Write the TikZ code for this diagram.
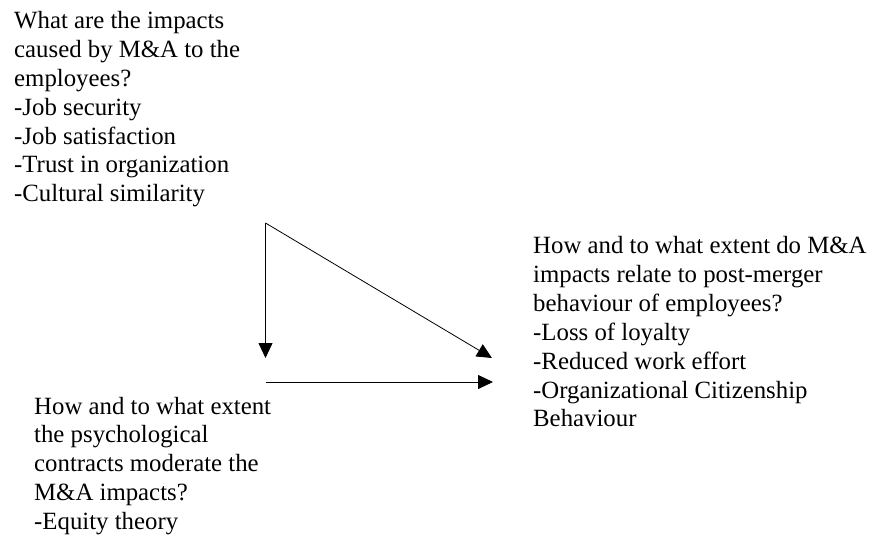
\documentclass[tikz,border=0pt]{standalone}
\usepackage{fontspec}
\setmainfont{Liberation Serif}
\usetikzlibrary{arrows.meta}
\begin{document}
\begin{tikzpicture}[x=1bp,y=-1bp,
  qtext/.style={anchor=base west,inner sep=0pt,align=left,
    font=\fontsize{24.8bp}{28.8bp}\selectfont},
  link/.style={line width=0.8bp,-{Triangle[length=15bp,width=14bp]}}]
  \useasboundingbox (0,0) rectangle (873,536);

  % research questions (placed by the baseline of their last line)
  \node[qtext] (impacts) at (14,201.8) {What are the impacts\\caused by M\&A to the\\employees?\\-Job security\\-Job satisfaction\\-Trust in organization\\-Cultural similarity};
  \node[qtext] (behaviour) at (533,426.8) {How and to what extent do M\&A\\impacts relate to post-merger\\behaviour of employees?\\-Loss of loyalty\\-Reduced work effort\\-Organizational Citizenship\\Behaviour};
  \node[qtext] (contracts) at (34,529.2) {How and to what extent\\the psychological\\contracts moderate the\\M\&A impacts?\\-Equity theory};

  % connector end points
  \coordinate (src) at (265.5,223);
  \coordinate (vtip) at (265.5,358);
  \coordinate (dtip) at (492,358);
  \coordinate (hstart) at (265.5,382);
  \coordinate (htip) at (493,382);

  \draw[link] (src) -- (vtip);
  \draw[link] (src) -- (dtip);
  \draw[link] (hstart) -- (htip);
\end{tikzpicture}
\end{document}
